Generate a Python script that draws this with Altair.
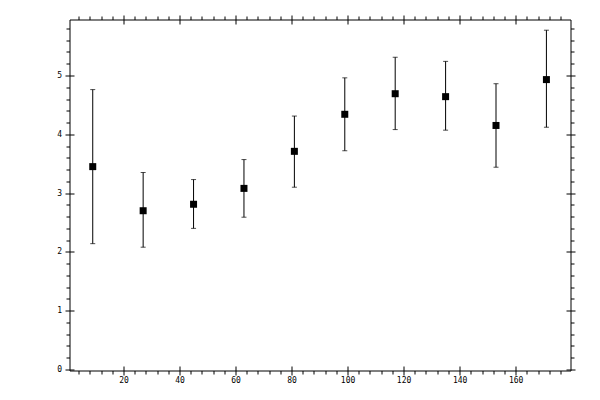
import altair as alt
import pandas as pd

x_vals = [9, 27, 45, 63, 81, 99, 117, 135, 153, 171]
y_vals = [3.45, 2.70, 2.81, 3.08, 3.71, 4.34, 4.69, 4.64, 4.15, 4.93]
y_hi = [4.76, 3.35, 3.23, 3.57, 4.31, 4.96, 5.31, 5.24, 4.86, 5.77]
y_lo = [2.14, 2.08, 2.40, 2.59, 3.10, 3.72, 4.08, 4.07, 3.44, 4.12]

x_major = [20, 40, 60, 80, 100, 120, 140, 160]
x_minor = [v for v in range(4, 180, 4) if v % 20]
y_major = [0, 1, 2, 3, 4, 5]
y_minor = [round(i * 0.2, 1) for i in range(1, 30) if i % 5]

df = pd.DataFrame({"x": x_vals, "y": y_vals, "hi": y_hi, "lo": y_lo})

x_scale = alt.Scale(domain=[0.7, 179.6], nice=False, zero=False)
y_scale = alt.Scale(domain=[-0.017, 5.952], nice=False, zero=False)

FONT = "DejaVu Sans Mono"


def make_axis(orient, values, major, labels=False, pad=2):
    # major ticks cross the frame, minor ticks point outward
    size = 9 if major else 3.5
    off = -4.5 if major else 0
    kw = {}
    if labels:
        kw = dict(labelFont=FONT, labelFontSize=8, labelColor="black",
                  labelPadding=pad, labelOverlap=False, labelFlush=False)
    return alt.Axis(orient=orient, values=values, tickSize=size, offset=off,
                    labels=labels, domain=False, grid=False, title=None,
                    tickColor="black", tickWidth=1, **kw)


base = alt.Chart(df)

bars = base.mark_rule(color="black", strokeWidth=1).encode(
    x=alt.X("x:Q", scale=x_scale, axis=make_axis("bottom", x_major, True, True, 1.5)),
    y=alt.Y("lo:Q", scale=y_scale, axis=make_axis("left", y_major, True, True, 3.5)),
    y2="hi:Q",
)

caps_hi = base.mark_tick(color="black", orient="horizontal", size=5, thickness=1).encode(
    x=alt.X("x:Q", scale=x_scale, axis=make_axis("bottom", x_minor, False)),
    y=alt.Y("hi:Q", scale=y_scale, axis=make_axis("left", y_minor, False)),
)

caps_lo = base.mark_tick(color="black", orient="horizontal", size=5, thickness=1).encode(
    x=alt.X("x:Q", scale=x_scale, axis=make_axis("top", x_major, True)),
    y=alt.Y("lo:Q", scale=y_scale, axis=make_axis("right", y_major, True)),
)

points = base.mark_square(color="black", size=49, opacity=1).encode(
    x=alt.X("x:Q", scale=x_scale, axis=make_axis("top", x_minor, False)),
    y=alt.Y("y:Q", scale=y_scale, axis=make_axis("right", y_minor, False)),
)

chart = alt.layer(bars, caps_hi, caps_lo, points).resolve_axis(
    x="independent", y="independent"
).properties(
    width=501,
    height=351,
    autosize="none",
    padding={"left": 61.5, "top": 11.5, "right": 20, "bottom": 20},
    background="white",
).configure_view(stroke="black", strokeWidth=1)

chart.save("out.html", embed_options={"renderer": "svg", "actions": False})
